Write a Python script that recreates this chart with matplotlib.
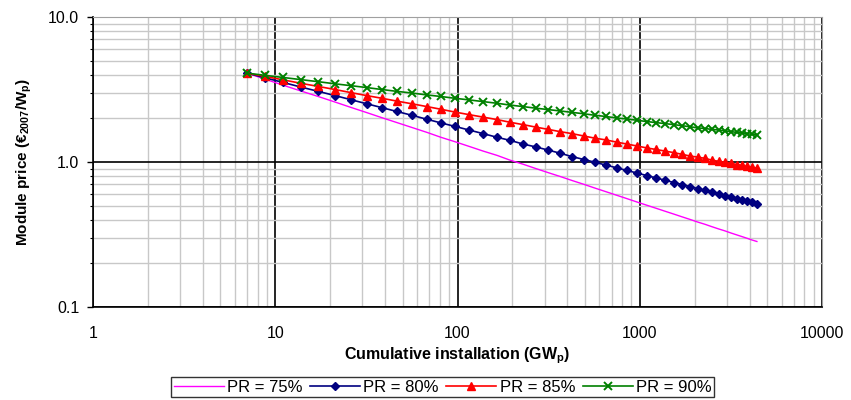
import matplotlib.pyplot as plt
from matplotlib.ticker import FixedLocator, LogLocator, NullFormatter

plt.rcParams['font.family'] = ['Liberation Sans', 'DejaVu Sans']
plt.rcParams['mathtext.fontset'] = 'custom'
plt.rcParams['mathtext.rm'] = 'Liberation Sans'
plt.rcParams['mathtext.bf'] = 'Liberation Sans:bold'

# cumulative installation (GWp)
install = [7.0, 8.78, 11.0, 13.8, 17.2, 21.3, 26.0, 31.8, 38.5, 46.5,
           56.2, 68.0, 81.1, 96.8, 116, 138, 165, 194, 229, 269,
           313, 365, 424, 494, 567, 652, 749, 850, 964, 1094,
           1226, 1373, 1539, 1702, 1883, 2083, 2276, 2486, 2716, 2930,
           3160, 3409, 3632, 3869, 4121, 4390]

# module price (EUR2007/Wp) for each progress ratio
pr75 = [4.10, 3.73, 3.39, 3.09, 2.83, 2.59, 2.38, 2.19, 2.02, 1.87,
        1.73, 1.60, 1.48, 1.38, 1.28, 1.19, 1.11, 1.03, 0.965, 0.901,
        0.846, 0.795, 0.746, 0.701, 0.661, 0.624, 0.589, 0.559, 0.530, 0.503,
        0.480, 0.458, 0.437, 0.419, 0.402, 0.385, 0.372, 0.358, 0.345, 0.335,
        0.324, 0.314, 0.306, 0.298, 0.290, 0.283]
pr80 = [4.10, 3.81, 3.54, 3.29, 3.07, 2.87, 2.69, 2.52, 2.37, 2.23,
        2.10, 1.97, 1.86, 1.76, 1.66, 1.57, 1.48, 1.41, 1.33, 1.27,
        1.21, 1.15, 1.09, 1.04, 0.996, 0.952, 0.911, 0.874, 0.840, 0.806,
        0.777, 0.749, 0.722, 0.699, 0.677, 0.655, 0.637, 0.619, 0.601, 0.587,
        0.573, 0.559, 0.548, 0.537, 0.526, 0.515]
pr85 = [4.10, 3.89, 3.69, 3.49, 3.32, 3.16, 3.01, 2.87, 2.75, 2.63,
        2.52, 2.41, 2.31, 2.21, 2.12, 2.04, 1.96, 1.88, 1.81, 1.74,
        1.68, 1.62, 1.57, 1.51, 1.46, 1.42, 1.37, 1.33, 1.29, 1.25,
        1.22, 1.19, 1.16, 1.13, 1.10, 1.08, 1.06, 1.03, 1.01, 0.995,
        0.978, 0.961, 0.946, 0.932, 0.919, 0.905]
pr90 = [4.10, 3.96, 3.83, 3.70, 3.58, 3.46, 3.36, 3.26, 3.16, 3.07,
        2.99, 2.90, 2.83, 2.75, 2.68, 2.61, 2.54, 2.47, 2.41, 2.35,
        2.30, 2.25, 2.20, 2.15, 2.10, 2.06, 2.01, 1.98, 1.94, 1.90,
        1.87, 1.84, 1.81, 1.78, 1.75, 1.72, 1.70, 1.68, 1.66, 1.64,
        1.62, 1.60, 1.59, 1.57, 1.55, 1.54]

x_ticks = [1, 10, 100, 1000, 10000]
x_labels = ['1', '10', '100', '1000', '10000']
y_ticks = [0.1, 1, 10]
y_labels = ['0.1', '1.0', '10.0']

fig = plt.figure(figsize=(8.51, 4.0), dpi=100)
ax = fig.add_axes([0.1093, 0.2325, 0.8567, 0.725])
ax.set_xscale('log')
ax.set_yscale('log')
ax.set_xlim(1, 10000)
ax.set_ylim(0.1, 10)

ax.plot(install, pr75, color='#ff00ff', lw=1.0, label='PR = 75%')
ax.plot(install, pr80, color='#000080', lw=1.2, marker='D', ms=4.5,
        label='PR = 80%')
ax.plot(install, pr85, color='#ff0000', lw=1.2, marker='^', ms=5.5,
        label='PR = 85%')
ax.plot(install, pr90, color='#008000', lw=1.2, marker='x', ms=6, mew=1.4,
        label='PR = 90%')

ax.xaxis.set_major_locator(FixedLocator(x_ticks))
ax.set_xticklabels(x_labels)
ax.yaxis.set_major_locator(FixedLocator(y_ticks))
ax.set_yticklabels(y_labels)
ax.xaxis.set_minor_locator(LogLocator(base=10, subs=range(2, 10)))
ax.yaxis.set_minor_locator(LogLocator(base=10, subs=range(2, 10)))
ax.xaxis.set_minor_formatter(NullFormatter())
ax.yaxis.set_minor_formatter(NullFormatter())

ax.grid(True, which='minor', color='#c8c8c8', lw=1.0)
ax.grid(True, which='major', color='black', lw=1.2)
ax.set_axisbelow(True)

ax.tick_params(which='major', direction='out', length=4, width=1, labelsize=11.5,
               pad=6)
ax.tick_params(which='minor', direction='out', length=2, width=0.8)
ax.tick_params(axis='x', which='both', length=0, pad=14)
for s in ['top', 'right']:
    ax.spines[s].set_color('#a0a0a0')
for s in ['left', 'bottom']:
    ax.spines[s].set_color('black')
    ax.spines[s].set_linewidth(1.2)

ax.set_xlabel('Cumulative installation (GW$_{\\mathbf{p}}$)', fontsize=11.5,
              fontweight='bold', labelpad=3)
ax.set_ylabel('Module price (€$_{\\mathbf{2007}}$/W$_{\\mathbf{p}}$)', fontsize=11,
              fontweight='bold', labelpad=10)

leg = fig.legend(loc='center', bbox_to_anchor=(0.52, 0.032), ncol=4,
                 fontsize=12, frameon=True, fancybox=False, edgecolor='black',
                 handlelength=3.0, handletextpad=0.2, columnspacing=0.45,
                 borderpad=0.15, borderaxespad=0, numpoints=1)
leg.get_frame().set_linewidth(1.0)

fig.savefig('out.png', dpi=100)
